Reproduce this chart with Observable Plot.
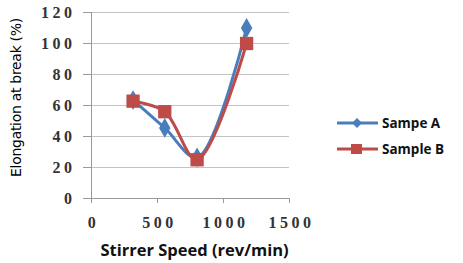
<!DOCTYPE html>
<html><head><meta charset="utf-8">
<script src="https://cdn.jsdelivr.net/npm/d3@7"></script>
<script src="https://cdn.jsdelivr.net/npm/@observablehq/plot@0.6"></script>
<style>
body{margin:0;background:#fff;}
#wrap{position:relative;width:463px;height:263px;overflow:hidden;}
#legend{position:absolute;left:337px;top:110px;font-family:"Open Sans",sans-serif;font-weight:700;font-size:13.5px;color:#111;}
.li{display:flex;align-items:center;height:26px;}
.li span{margin-left:4px;}
</style></head><body>
<div id="wrap"><div id="legend"></div></div>
<script>
const speeds = [315, 555, 800, 1175];
const sampleA = [63.5, 45.5, 26.5, 110];
const sampleB = [62.8, 56, 25, 100];
const seriesNames = ["Sampe A", "Sample B"];
const colors = ["#4a7ebb", "#be4b48"];
const symbols = ["diamond", "square"];
const xTicks = [0, 500, 1000, 1500];
const yTicks = [0, 20, 40, 60, 80, 100, 120];

const data = [];
[sampleA, sampleB].forEach((arr, si) => arr.forEach((v, i) => data.push({series: seriesNames[si], x: speeds[i], y: v})));

const serif = '"Liberation Serif","DejaVu Serif",serif';
const tickText = {fontFamily: serif, fontWeight: "bold", fontSize: 16, fill: "#333"};

const chart = Plot.plot({
  width: 463, height: 263,
  marginLeft: 91, marginRight: 174, marginTop: 12, marginBottom: 65,
  x: {domain: [0, 1500], ticks: xTicks, tickSize: 5, tickFormat: () => "", label: null},
  y: {domain: [0, 120], ticks: yTicks, tickSize: 8, tickFormat: () => "", label: null},
  color: {domain: seriesNames, range: colors},
  symbol: {domain: seriesNames, range: symbols},
  style: {overflow: "visible", color: "#9a9a9a"},
  marks: [
    Plot.ruleY(yTicks.filter(d => d > 0), {stroke: "#c4c4c4", strokeWidth: 1, x1: 0, x2: 1500}),
    Plot.ruleY([0], {stroke: "#9a9a9a"}),
    Plot.ruleX([0], {stroke: "#9a9a9a"}),
    Plot.text(yTicks, {x: 0, y: d => d, text: d => String(d), textAnchor: "end", dx: -16, ...tickText}),
    Plot.text(xTicks, {x: d => d, y: 0, text: d => String(d), dy: 24, dx: 2, ...tickText}),
    Plot.line(data, {x: "x", y: "y", z: "series", stroke: "series", strokeWidth: 3, curve: "catmull-rom"}),
    Plot.dot(data.filter(d => d.series === seriesNames[0]), {x: "x", y: "y", symbol: "series", fill: "series", r: 6}),
    Plot.dot(data.filter(d => d.series === seriesNames[1]), {x: "x", y: "y", symbol: "series", fill: "series", r: 7.5}),
    Plot.text(["Elongation at break (%)"], {frameAnchor: "left", textAnchor: "middle", dx: -75, dy: -8, rotate: -90, fontFamily: '"Liberation Sans Narrow","DejaVu Sans",sans-serif', fontSize: 14, fill: "#000"}),
    Plot.text(["Stirrer Speed (rev/min)"], {frameAnchor: "bottom", dx: 4, dy: 57, fontFamily: '"Open Sans",sans-serif', fontWeight: "bold", fontSize: 16.5, fill: "#111"})
  ]
});
document.getElementById("wrap").prepend(chart);
chart.querySelectorAll('[font-family*="Serif"]').forEach(g => { g.style.letterSpacing = "3.5px"; });
chart.querySelectorAll('[font-family*="Narrow"]').forEach(g => { g.style.letterSpacing = "-0.3px"; });

const legend = document.getElementById("legend");
seriesNames.forEach((name, i) => {
  const row = document.createElement("div");
  row.className = "li";
  const mk = i === 0
    ? `<polygon points="20,2 25,7 20,12 15,7" fill="${colors[i]}"/>`
    : `<rect x="14" y="2" width="11" height="10" fill="${colors[i]}"/>`;
  row.innerHTML = `<svg width="41" height="14"><line x1="0" x2="41" y1="7" y2="7" stroke="${colors[i]}" stroke-width="3"/>${mk}</svg><span>${name}</span>`;
  legend.appendChild(row);
});
</script>
</body></html>
